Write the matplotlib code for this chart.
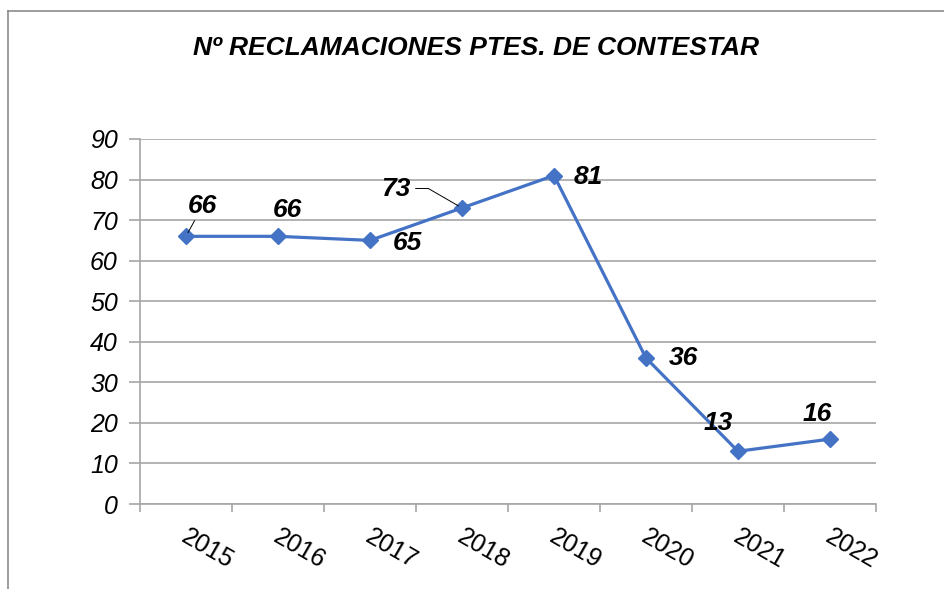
import matplotlib.pyplot as plt
import matplotlib.transforms as mtransforms
from matplotlib.lines import Line2D

plt.rcParams['font.family'] = ['Liberation Sans', 'DejaVu Sans']

# datos
anios = ['2015', '2016', '2017', '2018', '2019', '2020', '2021', '2022']
reclamaciones = [66, 66, 65, 73, 81, 36, 13, 16]
# desplazamiento de cada etiqueta respecto a su punto (pt)
offsets = [(12, 22), (7, 19), (27, -2), (-48, 14), (25, -1), (27, 0), (-14, 20), (-9, 18)]

fig = plt.figure(figsize=(9.44, 5.89), dpi=100)
ax = fig.add_axes([140 / 944, 1 - 504 / 589, 736 / 944, 365 / 589])

x = list(range(len(anios)))
ax.plot(x, reclamaciones, color='#4472C4', lw=2.3, marker='D', ms=8,
        markeredgecolor='#4472C4', zorder=3)

ax.set_xlim(-0.5, len(anios) - 0.5)
ax.set_ylim(0, 90)
ax.set_yticks(range(0, 91, 10))
ax.grid(axis='y', color='#A6A6A6', lw=1.2)
ax.set_axisbelow(True)

# marcas en los bordes de categoría, etiquetas en el centro
ax.set_xticks([i - 0.5 for i in range(len(anios) + 1)])
ax.set_xticklabels([])
ax.set_xticks(x, minor=True)
ax.set_xticklabels(anios, minor=True, rotation=-30, ha='left',
                   rotation_mode='anchor', fontsize=18)
ax.tick_params(axis='x', which='major', length=6, color='#A6A6A6', width=1.2)
ax.tick_params(axis='x', which='minor', length=0, pad=15)
ax.tick_params(axis='y', length=8, color='#A6A6A6', width=1.2, pad=8,
               labelsize=18)
for lab in ax.get_xticklabels(minor=True):
    lab.set_transform(lab.get_transform() +
                      mtransforms.ScaledTranslation(0.03, 0, fig.dpi_scale_trans))
for lab in ax.get_yticklabels():
    lab.set_fontstyle('italic')

for s in ['top', 'right']:
    ax.spines[s].set_visible(False)
for s in ['left', 'bottom']:
    ax.spines[s].set_color('#A6A6A6')
    ax.spines[s].set_linewidth(1.2)

# etiquetas de datos
for i, (v, off) in enumerate(zip(reclamaciones, offsets)):
    props = None
    if i == 0:
        props = dict(arrowstyle='-', color='black', lw=0.7, shrinkA=0, shrinkB=3)
    elif i == 3:
        props = dict(arrowstyle='-', color='black', lw=0.7, shrinkA=2, shrinkB=3,
                     connectionstyle='angle,angleA=0,angleB=-30,rad=0')
    ax.annotate(str(v), (i, v), xytext=off, textcoords='offset points',
                ha='center', va='center', fontsize=19, fontweight='bold',
                fontstyle='italic', arrowprops=props)

fig.text(476 / 944, 1 - 48 / 589, 'Nº RECLAMACIONES PTES. DE CONTESTAR',
         ha='center', va='center', fontsize=19, fontweight='bold',
         fontstyle='italic')

# marco del gráfico
fig.add_artist(Line2D([8 / 944, 8 / 944], [0, 1 - 11 / 589], color='#8C8C8C', lw=1.2))
fig.add_artist(Line2D([8 / 944, 1], [1 - 11 / 589, 1 - 11 / 589], color='#8C8C8C', lw=1.2))

fig.savefig('out.png', dpi=100)
